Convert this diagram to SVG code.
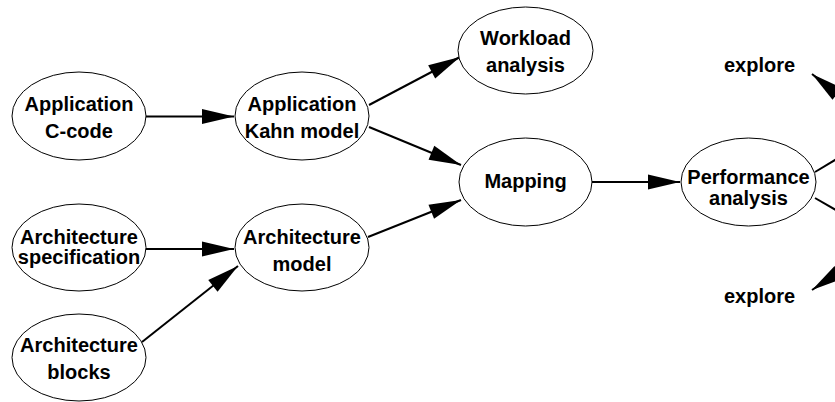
<svg xmlns="http://www.w3.org/2000/svg" width="835" height="402" viewBox="0 0 835 402">
<style>
.node ellipse{fill:#fff;stroke:#000;stroke-width:1}
text{font-family:"Liberation Sans",Arial,Helvetica,sans-serif;font-weight:bold;font-size:20px;fill:#000;text-anchor:middle}
.edges line{stroke:#000;stroke-width:2;fill:none}
.edges line.a{marker-end:url(#ah)}
</style>
<defs>
<marker id="ah" markerUnits="userSpaceOnUse" markerWidth="32" markerHeight="15" refX="32" refY="7.5" orient="auto" overflow="visible">
<path d="M0,0 L32,7.5 L0,15 z" fill="#000"/>
</marker>
</defs>
<rect width="835" height="402" fill="#fff"/>
<g class="edges" id="connectors">
<line class="a" x1="146" y1="116.5" x2="234" y2="116.5"/>
<line class="a" x1="369" y1="105" x2="460" y2="57"/>
<line class="a" x1="369" y1="127" x2="461" y2="165"/>
<line class="a" x1="146" y1="249" x2="234" y2="249"/>
<line class="a" x1="142" y1="342" x2="238" y2="266"/>
<line class="a" x1="368" y1="237" x2="461" y2="200"/>
<line class="a" x1="592" y1="182" x2="680" y2="182"/>
<line x1="815" y1="172" x2="855" y2="148"/>
<line x1="815" y1="198" x2="855" y2="221"/>
<line class="a" x1="859" y1="111" x2="812" y2="74"/>
<line class="a" x1="862" y1="257" x2="812" y2="290"/>
</g>
<g class="node" id="app-ccode"><ellipse cx="79" cy="116" rx="67" ry="44"/><text x="79" y="111">Application</text><text x="79" y="138">C-code</text></g>
<g class="node" id="app-kahn"><ellipse cx="302" cy="116" rx="67" ry="44"/><text x="302" y="111">Application</text><text x="302" y="138">Kahn model</text></g>
<g class="node" id="arch-spec"><ellipse cx="79" cy="247.5" rx="67" ry="43.5"/><text x="79" y="244">Architecture</text><text x="79" y="264">specification</text></g>
<g class="node" id="arch-model"><ellipse cx="302" cy="247.5" rx="67" ry="43.5"/><text x="302" y="244">Architecture</text><text x="302" y="271">model</text></g>
<g class="node" id="arch-blocks"><ellipse cx="79" cy="357.5" rx="67" ry="43.5"/><text x="79" y="352">Architecture</text><text x="79" y="379">blocks</text></g>
<g class="node" id="workload"><ellipse cx="525.5" cy="50.5" rx="67.5" ry="43.5"/><text x="525.5" y="45">Workload</text><text x="525.5" y="72">analysis</text></g>
<g class="node" id="mapping"><ellipse cx="525.5" cy="182" rx="66.5" ry="44"/><text x="525.5" y="188">Mapping</text></g>
<g class="node" id="perf"><ellipse cx="748.5" cy="182" rx="67.5" ry="44"/><text x="748.5" y="184">Performance</text><text x="748.5" y="205">analysis</text></g>
<g id="explore-top"><text x="759.5" y="72">explore</text></g>
<g id="explore-bottom"><text x="759.5" y="303">explore</text></g>
</svg>
